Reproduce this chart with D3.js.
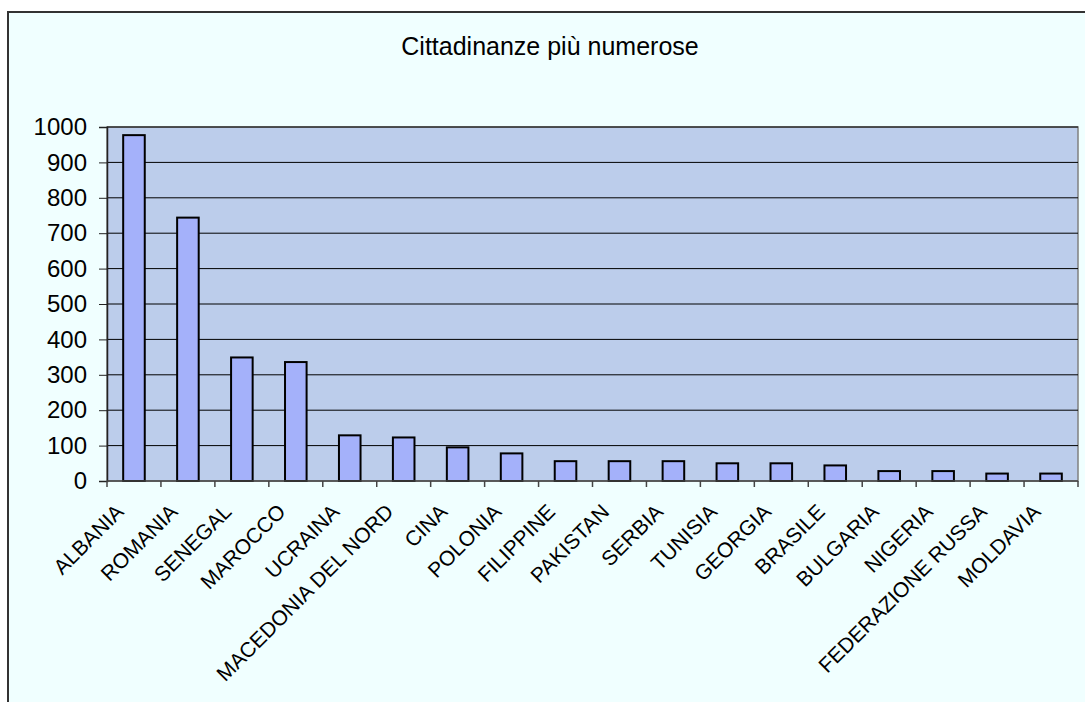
<!DOCTYPE html>
<html lang="it">
<head>
<meta charset="UTF-8">
<title>Cittadinanze più numerose</title>
<script src="https://cdn.jsdelivr.net/npm/d3@7/dist/d3.min.js"></script>
<style>
  body { margin: 0; background: #fff; }
  text { font-family: "Liberation Sans", Arial, sans-serif; fill: #000; }
</style>
</head>
<body>
<svg id="chart" width="1085" height="702"></svg>
<script>
// dati
const paesi = ['ALBANIA', 'ROMANIA', 'SENEGAL', 'MAROCCO', 'UCRAINA', 'MACEDONIA DEL NORD',
  'CINA', 'POLONIA', 'FILIPPINE', 'PAKISTAN', 'SERBIA', 'TUNISIA', 'GEORGIA', 'BRASILE',
  'BULGARIA', 'NIGERIA', 'FEDERAZIONE RUSSA', 'MOLDAVIA'];
const valori = [977, 744, 349, 336, 129, 123, 95, 78, 56, 56, 56, 50, 50, 44, 28, 28, 21, 21];
const yTicks = [0, 100, 200, 300, 400, 500, 600, 700, 800, 900, 1000];
const titolo = 'Cittadinanze più numerose';

const W = 1085, H = 702;
const plot = { left: 107, right: 1078, top: 127, bottom: 481 };

const svg = d3.select('#chart');

// sfondo e cornice
svg.append('rect').attr('x', 8).attr('y', 12).attr('width', W).attr('height', H)
  .attr('fill', '#f0ffff');
svg.append('path').attr('d', `M8,${H} V12 H${W}`)
  .attr('fill', 'none').attr('stroke', '#333').attr('stroke-width', 2);

svg.append('text').attr('x', 550).attr('y', 55)
  .attr('text-anchor', 'middle').style('font-size', '25px').text(titolo);

const xb = d3.scaleBand().domain(paesi).range([plot.left, plot.right]);
const y = d3.scaleLinear().domain([0, 1000]).range([plot.bottom, plot.top]);

// area del grafico
svg.append('rect')
  .attr('x', plot.left).attr('y', plot.top)
  .attr('width', plot.right - plot.left).attr('height', plot.bottom - plot.top)
  .attr('fill', '#bccdeb').attr('stroke', '#808080').attr('stroke-width', 1.5);

// griglia
svg.append('g').selectAll('line').data(yTicks.filter(d => d > 0)).enter()
  .append('line')
  .attr('x1', plot.left).attr('x2', plot.right)
  .attr('y1', d => y(d)).attr('y2', d => y(d))
  .attr('stroke', '#000').attr('stroke-width', 1);

// barre (larghezza = banda / 2.5)
const bw = xb.bandwidth() / 2.5;
svg.append('g').selectAll('rect').data(valori).enter()
  .append('rect')
  .attr('x', (d, i) => xb(paesi[i]) + xb.bandwidth() / 2 - bw / 2)
  .attr('width', bw)
  .attr('y', d => y(d))
  .attr('height', d => y(0) - y(d))
  .attr('fill', '#a4b1fa').attr('stroke', '#000').attr('stroke-width', 2);

// asse y
const yAxis = svg.append('g').attr('transform', `translate(${plot.left},0)`)
  .call(d3.axisLeft(y).tickValues(yTicks).tickFormat(d3.format('d')).tickSize(8).tickPadding(12));
yAxis.select('.domain').attr('stroke', '#222').attr('stroke-width', 1.5);
yAxis.selectAll('.tick line').attr('stroke', '#222');
yAxis.selectAll('text').style('font-size', '24px').attr('font-family', null);

// asse x: tacche ai confini delle categorie
const bordi = paesi.map(p => xb(p)).concat([plot.right]);
const xAxis = svg.append('g');
xAxis.append('line').attr('x1', plot.left).attr('x2', plot.right)
  .attr('y1', plot.bottom).attr('y2', plot.bottom)
  .attr('stroke', '#444').attr('stroke-width', 1.5);
xAxis.selectAll('line.tick').data(bordi).enter()
  .append('line').attr('class', 'tick')
  .attr('x1', d => d).attr('x2', d => d)
  .attr('y1', plot.bottom).attr('y2', plot.bottom + 6)
  .attr('stroke', '#444').attr('stroke-width', 1.5);
xAxis.selectAll('text').data(paesi).enter()
  .append('text')
  .attr('transform', d => `translate(${xb(d) + xb.bandwidth() / 2 - 9},513) rotate(-45)`)
  .attr('text-anchor', 'end')
  .style('font-size', '21px')
  .text(d => d);
</script>
</body>
</html>
